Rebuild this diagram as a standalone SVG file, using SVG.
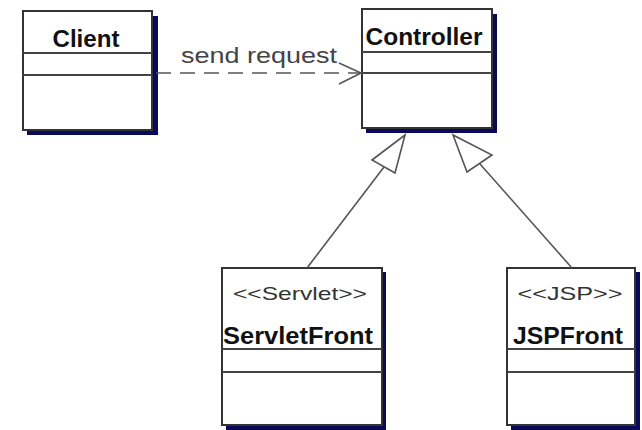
<svg xmlns="http://www.w3.org/2000/svg" width="642" height="430" viewBox="0 0 642 430">
<style>
.shadow{fill:#0a0a5c}
.box{fill:#fff;stroke:#333;stroke-width:2}
.sep{stroke:#444;stroke-width:2}
.name{font-family:"Liberation Sans",Arial,sans-serif;font-weight:bold;font-size:24px;fill:#111;text-anchor:middle}
.stereo{font-family:"Liberation Sans",Arial,sans-serif;font-size:19px;fill:#333;text-anchor:middle}
.lbl{font-family:"Liberation Sans",Arial,sans-serif;font-size:22px;fill:#444}
.conn{fill:none;stroke:#555;stroke-width:1.6}
.tri{fill:#fff;stroke:#555;stroke-width:1.6;stroke-linejoin:miter}
</style>
<rect width="642" height="430" fill="#fff"/>
<g id="Client">
<rect class="shadow" x="27" y="16" width="131" height="119"/>
<rect class="box" x="23" y="11" width="129" height="119"/>
<line class="sep" x1="23" y1="53" x2="152" y2="53"/>
<line class="sep" x1="23" y1="75" x2="152" y2="75"/>
<text class="name" x="86" y="47" textLength="67" lengthAdjust="spacingAndGlyphs">Client</text>
</g>
<g id="Controller">
<rect class="shadow" x="366" y="14" width="131" height="119"/>
<rect class="box" x="362" y="9" width="130" height="119"/>
<line class="sep" x1="362" y1="52" x2="492" y2="52"/>
<line class="sep" x1="362" y1="73" x2="492" y2="73"/>
<text class="name" x="424" y="45" textLength="117" lengthAdjust="spacingAndGlyphs">Controller</text>
</g>
<g id="ServletFront">
<rect class="shadow" x="226" y="272" width="160" height="158"/>
<rect class="box" x="222" y="268" width="160" height="157"/>
<line class="sep" x1="222" y1="349" x2="382" y2="349"/>
<line class="sep" x1="222" y1="372" x2="382" y2="372"/>
<text class="stereo" x="300" y="300" textLength="134" lengthAdjust="spacingAndGlyphs">&lt;&lt;Servlet&gt;&gt;</text>
<text class="name" x="298" y="344" textLength="150" lengthAdjust="spacingAndGlyphs">ServletFront</text>
</g>
<g id="JSPFront">
<rect class="shadow" x="511" y="272" width="129" height="158"/>
<rect class="box" x="507" y="268" width="128" height="157"/>
<line class="sep" x1="507" y1="349" x2="635" y2="349"/>
<line class="sep" x1="507" y1="372" x2="635" y2="372"/>
<text class="stereo" x="570" y="300" textLength="105" lengthAdjust="spacingAndGlyphs">&lt;&lt;JSP&gt;&gt;</text>
<text class="name" x="568" y="344" textLength="110" lengthAdjust="spacingAndGlyphs">JSPFront</text>
</g>
<g id="connectors">
<line class="conn" x1="156" y1="73" x2="360" y2="73" stroke-dasharray="15,9"/>
<polyline class="conn" points="339,63 361,73 339,84"/>
<text class="lbl" x="181" y="63" textLength="156" lengthAdjust="spacingAndGlyphs">send request</text>
<line class="conn" x1="307" y1="268" x2="384" y2="167"/>
<polygon class="tri" points="405,135 372,160 395,173"/>
<line class="conn" x1="572" y1="268" x2="480" y2="164"/>
<polygon class="tri" points="453,135 467,172 492,155"/>
</g>
</svg>
